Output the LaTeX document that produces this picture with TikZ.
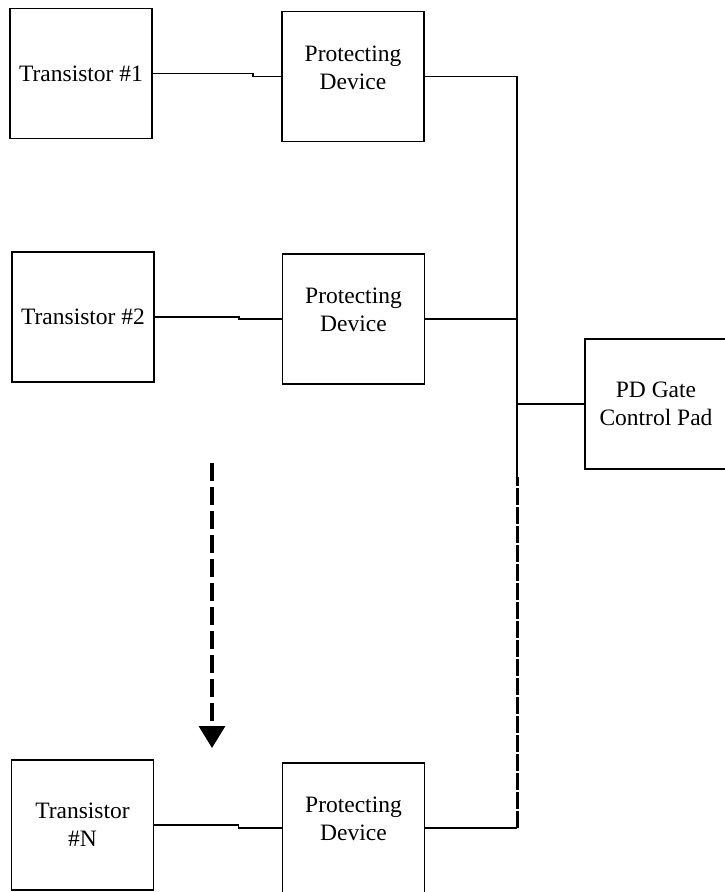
\documentclass[tikz,border=0pt]{standalone}
\usepackage{fontspec}
\setmainfont{Liberation Serif}
\usetikzlibrary{arrows.meta}

\begin{document}
\begin{tikzpicture}[x=1pt,y=-1pt,
  box/.style={draw,line width=1.8pt,minimum width=142pt,minimum height=130pt,
    align=center,font=\fontsize{23.5}{28}\selectfont},
  pbox/.style={box,text depth=18pt},
  wire/.style={line width=1.8pt}]

\useasboundingbox (0,0) rectangle (725,892);

% transistors
\node[box] (t1) at (81,73.5) {Transistor \#1};
\node[box] (t2) at (83,317) {Transistor \#2};
\node[box] (tn) at (82.5,825) {Transistor\\\#N};

% protecting devices
\node[pbox] (p1) at (353,76.5) {Protecting\\Device};
\node[pbox] (p2) at (353.5,319) {Protecting\\Device};
\node[pbox] (pn) at (353.5,828) {Protecting\\Device};

% gate pad
\node[box] (pd) at (656,404) {PD Gate\\Control Pad};

% transistor to device
\draw[wire] (t1.east) -- ++(100,0) |- (p1.west);
\draw[wire] (t2.east) -- ++(84,0) |- (p2.west);
\draw[wire] (tn.east) -- ++(84,0) |- (pn.west);

% common bus
\coordinate (bus) at (517,477);
\draw[wire] (p1.east) -| (bus);
\draw[wire] (p2.east) -- (p2.east -| bus);
\draw[wire] (pd.west) -- (pd.west -| bus);
\draw[wire] (pn.east) -- (pn.east -| bus);
\draw[line width=3pt,dash pattern=on 17pt off 2pt] (pn.east -| bus) -- (bus);

% more stages
\coordinate (more) at (212,463);
\coordinate (moreend) at (212,748);
\draw[line width=3.5pt,dash pattern=on 18pt off 6pt,-{Triangle[width=26pt,length=22pt]}] (more) -- (moreend);

\end{tikzpicture}
\end{document}
